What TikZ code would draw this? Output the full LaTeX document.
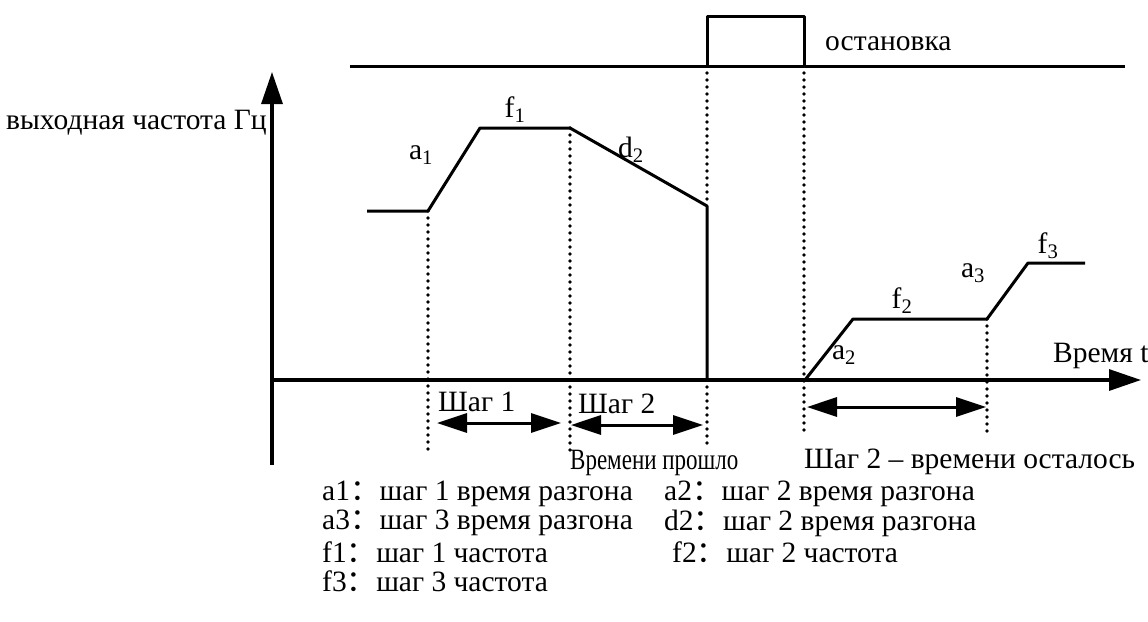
\documentclass[tikz,border=0pt]{standalone}
\usepackage{fontspec}
\setmainfont{Liberation Serif}
\newfontfamily\cjk{Noto Sans CJK SC}
\usetikzlibrary{arrows.meta}

\newcommand{\sublbl}[2]{#1\textsubscript{#2}}
\newcommand{\wcolon}{{\cjk ：}}

\begin{document}
\begin{tikzpicture}[x=1pt, y=-1pt,
        every node/.style={font=\fontsize{29.5}{31}\selectfont, inner sep=0pt},
        signal/.style={line width=3pt, line join=round},
        axis/.style={line width=3.2pt, -{Triangle[length=32pt, width=21pt]}},
        guide/.style={line width=3.6pt, line cap=round, dash pattern=on 0pt off 7pt},
        span/.style={line width=3pt, {Triangle[length=30pt, width=19pt]}-{Triangle[length=30pt, width=19pt]}},
        legend/.style={anchor=west}
    ]
        \useasboundingbox (0,0) rectangle (1148,621);

        % axes
        \coordinate (origin) at (272,380);
        \coordinate (ytop) at (272,72);
        \coordinate (ybot) at (272,465);
        \coordinate (xend) at (1141,380);
        \draw [axis] (ybot) -- (ytop);
        \draw [axis] (origin) -- (xend);

        % stop signal
        \coordinate (s0) at (350,66);
        \coordinate (s1) at (707,66);
        \coordinate (s2) at (707,16);
        \coordinate (s3) at (804,16);
        \coordinate (s4) at (804,66);
        \coordinate (s5) at (1125,66);
        \draw [signal] (s0) -- (s1) -- (s2) -- (s3) -- (s4) -- (s5);
        \draw [signal] (s1) -- (s4);

        % frequency curve
        \coordinate (p0) at (367,211);
        \coordinate (p1) at (428,211);
        \coordinate (p2) at (480,128);
        \coordinate (p3) at (570,128);
        \coordinate (p4) at (707,206);
        \coordinate (p5) at (707,380);
        \draw [signal] (p0) -- (p1) -- (p2) -- (p3) -- (p4) -- (p5);
        \coordinate (q0) at (805,380);
        \coordinate (q1) at (853,319);
        \coordinate (q2) at (987,319);
        \coordinate (q3) at (1028,263);
        \coordinate (q4) at (1085,263);
        \draw [signal] (q0) -- (q1) -- (q2) -- (q3) -- (q4);

        % guide lines
        \draw [guide] (p1) -- (428,452);
        \draw [guide] (p3) -- (570,452);
        \draw [guide] (s1) -- (p4);
        \draw [guide] (p5) -- (707,444);
        \draw [guide] (s4) -- (804,434);
        \draw [guide] (q2) -- (987,434);

        % steps
        \draw [span] (437,423) -- (561,423);
        \draw [span] (571,425) -- (703,425);
        \draw [span] (807,407) -- (986,407);

        % labels
        \node (yname) [anchor=west] at (6,123) {выходная частота Гц};
        \node (xname) [anchor=west] at (1053,356) {Время t};
        \node (stop) [anchor=west] at (825,44) {остановка};
        \node (la1) at (421,155) {\sublbl{a}{1}};
        \node (lf1) at (515,110) {\sublbl{f}{1}};
        \node (ld2) at (631,150) {\sublbl{d}{2}};
        \node (la2) at (844,355) {\sublbl{a}{2}};
        \node (lf2) at (902,301) {\sublbl{f}{2}};
        \node (la3) at (973,273) {\sublbl{a}{3}};
        \node (lf3) at (1048,246) {\sublbl{f}{3}};
        \node (step1) [anchor=west] at (438,402) {Шаг 1};
        \node (step2) [anchor=west] at (578,404) {Шаг 2};
        \node (passed) [anchor=west, xscale=0.78] at (570,463) {Времени прошло};
        \node (left) [anchor=west] at (804,462) {Шаг 2 – времени осталось};

        % legend
        \node (lg1) [legend] at (322,494) {a1\wcolon шаг 1 время разгона};
        \node (lg2) [legend] at (664,494) {a2\wcolon шаг 2 время разгона};
        \node (lg3) [legend] at (322,523) {a3\wcolon шаг 3 время разгона};
        \node (lg4) [legend] at (664,523) {d2\wcolon шаг 2 время разгона};
        \node (lg5) [legend] at (322,552) {f1\wcolon шаг 1 частота};
        \node (lg6) [legend] at (672,552) {f2\wcolon шаг 2 частота};
        \node (lg7) [legend] at (322,581) {f3\wcolon шаг 3 частота};
    \end{tikzpicture}
\end{document}
